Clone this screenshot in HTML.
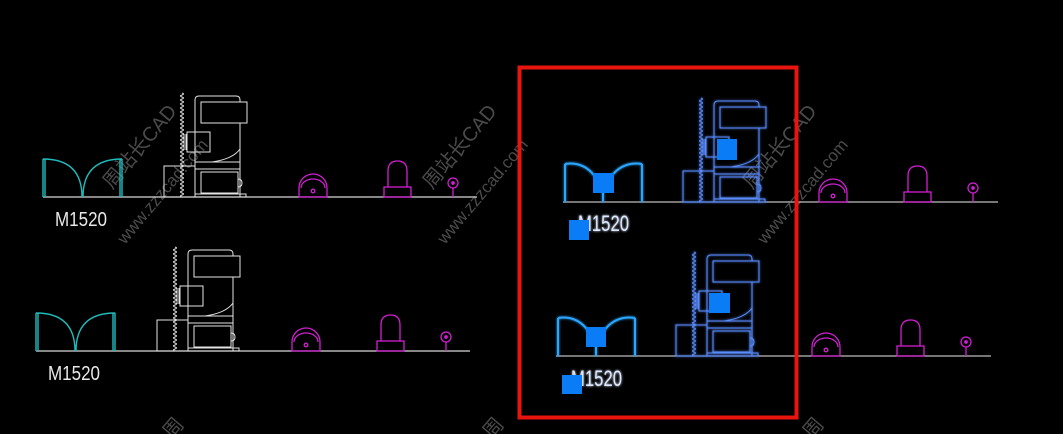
<!DOCTYPE html>
<html><head><meta charset="utf-8"><style>
html,body{margin:0;padding:0;background:#000;width:1063px;height:434px;overflow:hidden}
svg{display:block}
</style></head><body>
<svg width="1063" height="434" viewBox="0 0 1063 434" xmlns="http://www.w3.org/2000/svg">
<defs>
<filter id="glow" x="-20%" y="-20%" width="140%" height="140%">
<feGaussianBlur stdDeviation="1.2" result="b"/>
<feMerge><feMergeNode in="b"/><feMergeNode in="SourceGraphic"/></feMerge>
</filter>
<g id="door" fill="none" stroke="currentColor" stroke-width="1.4">
<path d="M0,0 V-38 M2,0 V-38 M0,-38 Q39,-38 39,0 M79,-38 Q40,-38 40,0 M77,0 V-38 M79,0 V-38"/>
</g>
<g id="bdoor" fill="none" stroke="currentColor" stroke-width="2">
<path d="M2,0 V-38 M2,-38 Q28,-42 40,-10 V0 M79,0 V-38 M79,-38 Q52,-42 40,-10"/>
</g>
<g id="cab" fill="none" stroke="currentColor" stroke-width="1">
<path d="M139,-104 q3,1 0,2 q-3,1 0,2 q3,1 0,2 q-3,1 0,2 q3,1 0,2 q-3,1 0,2 q3,1 0,2 q-3,1 0,2 q3,1 0,2 q-3,1 0,2 q3,1 0,2 q-3,1 0,2 q3,1 0,2 q-3,1 0,2 q3,1 0,2 q-3,1 0,2 q3,1 0,2 q-3,1 0,2 q3,1 0,2 q-3,1 0,2 q3,1 0,2 q-3,1 0,2 q3,1 0,2 q-3,1 0,2 q3,1 0,2 q-3,1 0,2 q3,1 0,2 q-3,1 0,2 q3,1 0,2 q-3,1 0,2 q3,1 0,2 q-3,1 0,2 q3,1 0,2 q-3,1 0,2 q3,1 0,2 q-3,1 0,2 q3,1 0,2 q-3,1 0,2 q3,1 0,2 q-3,1 0,2 q3,1 0,2 q-3,1 0,2 q3,1 0,2 q-3,1 0,2 q3,1 0,2 q-3,1 0,2 q3,1 0,2 q-3,1 0,2 q3,1 0,2 q-3,1 0,2 q3,1 0,2 q-3,1 0,2"/>
<path d="M152,0 V-97 Q152,-101 156,-101 H193 Q197,-101 197,-97 V-95"/>
<rect x="158" y="-95" width="46" height="21"/>
<path d="M197,-74 V0"/>
<rect x="144" y="-65" width="23" height="20"/>
<path d="M141,-63 v16 M143,-63 v16"/>
<path d="M152,-35 H197 M152,-28 H197"/>
<path d="M169,-35 Q190,-38 197,-48"/>
<rect x="121" y="-31" width="31" height="31"/>
<rect x="158" y="-25" width="37" height="21"/>
<path d="M195,-18 q4,0 4,4 q0,4 -4,4"/>
<rect x="152" y="-3" width="51" height="3"/>
</g>
<g id="fix" fill="none" stroke="currentColor" stroke-width="1.3">
<path d="M256,0 V-9 A14,14 0 0 1 284,-9 V0 Z"/>
<path d="M258,-9 A12,9 0 0 1 282,-9"/>
<circle cx="270" cy="-6" r="1.8"/>
<rect x="341" y="-10" width="27" height="10"/>
<path d="M345,-10 V-26 Q345,-36 354.5,-36 Q364,-36 364,-26 V-10"/>
<circle cx="410" cy="-14" r="5"/>
<circle cx="410" cy="-14" r="1.2" fill="currentColor"/>
<path d="M410,-9 V0"/>
</g>
</defs>

<g fill="#4a4a4a" font-family="'Liberation Sans','Noto Sans CJK SC',sans-serif" font-size="20">
<text transform="translate(112,190) rotate(-50)">周站长CAD</text>
<text transform="translate(125,245) rotate(-50)" font-size="17">www.zzzcad.com</text>
<text transform="translate(432,190) rotate(-50)">周站长CAD</text>
<text transform="translate(445,245) rotate(-50)" font-size="17">www.zzzcad.com</text>
<text transform="translate(752,190) rotate(-50)">周站长CAD</text>
<text transform="translate(765,245) rotate(-50)" font-size="17">www.zzzcad.com</text>
<text transform="translate(172,440) rotate(-50)">周</text>
<text transform="translate(492,440) rotate(-50)">周</text>
<text transform="translate(812,440) rotate(-50)">周</text>
</g>

<g transform="translate(43,197)">
<path d="M0,0 H434" stroke="#d8d8d8" stroke-width="1.2"/>
<use href="#door" style="color:#1fbcbc"/>
<use href="#cab" style="color:#e4e4e4"/>
<use href="#fix" style="color:#d21fd2"/>
</g>
<text x="55" y="226" fill="#e8e8e8" font-family="'Liberation Sans',sans-serif" font-size="20" textLength="52" lengthAdjust="spacingAndGlyphs">M1520</text>

<g transform="translate(36,351)">
<path d="M0,0 H434" stroke="#d8d8d8" stroke-width="1.2"/>
<use href="#door" style="color:#1fbcbc"/>
<use href="#cab" style="color:#e4e4e4"/>
<use href="#fix" style="color:#d21fd2"/>
</g>
<text x="48" y="380" fill="#e8e8e8" font-family="'Liberation Sans',sans-serif" font-size="20" textLength="52" lengthAdjust="spacingAndGlyphs">M1520</text>

<g transform="translate(563,202)">
<path d="M0,0 H435" stroke="#bdbdbd" stroke-width="1.2"/>
<g filter="url(#glow)">
<use href="#bdoor" style="color:#2aa6ff"/>
<use href="#cab" style="color:#5a8cff" transform="translate(-1,0)"/>
</g>
<use href="#fix" style="color:#d21fd2"/>
</g>
<text x="578" y="231" fill="#dde8ff" filter="url(#glow)" font-family="'Liberation Sans',sans-serif" font-size="22" textLength="51" lengthAdjust="spacingAndGlyphs">M1520</text>
<rect x="593" y="173" width="21" height="20" fill="#0a7cf5"/>
<rect x="569" y="220" width="20" height="20" fill="#0a7cf5"/>
<rect x="717" y="139" width="20" height="21" fill="#0a7cf5"/>

<g transform="translate(556,356)">
<path d="M0,0 H435" stroke="#bdbdbd" stroke-width="1.2"/>
<g filter="url(#glow)">
<use href="#bdoor" style="color:#2aa6ff"/>
<use href="#cab" style="color:#5a8cff" transform="translate(-1,0)"/>
</g>
<use href="#fix" style="color:#d21fd2"/>
</g>
<text x="571" y="386" fill="#dde8ff" filter="url(#glow)" font-family="'Liberation Sans',sans-serif" font-size="22" textLength="51" lengthAdjust="spacingAndGlyphs">M1520</text>
<rect x="586" y="327" width="20" height="20" fill="#0a7cf5"/>
<rect x="562" y="375" width="20" height="19" fill="#0a7cf5"/>
<rect x="709" y="293" width="21" height="20" fill="#0a7cf5"/>

<rect x="519.5" y="67.5" width="277" height="350" fill="none" stroke="#e8150f" stroke-width="4"/>
</svg>
</body></html>
